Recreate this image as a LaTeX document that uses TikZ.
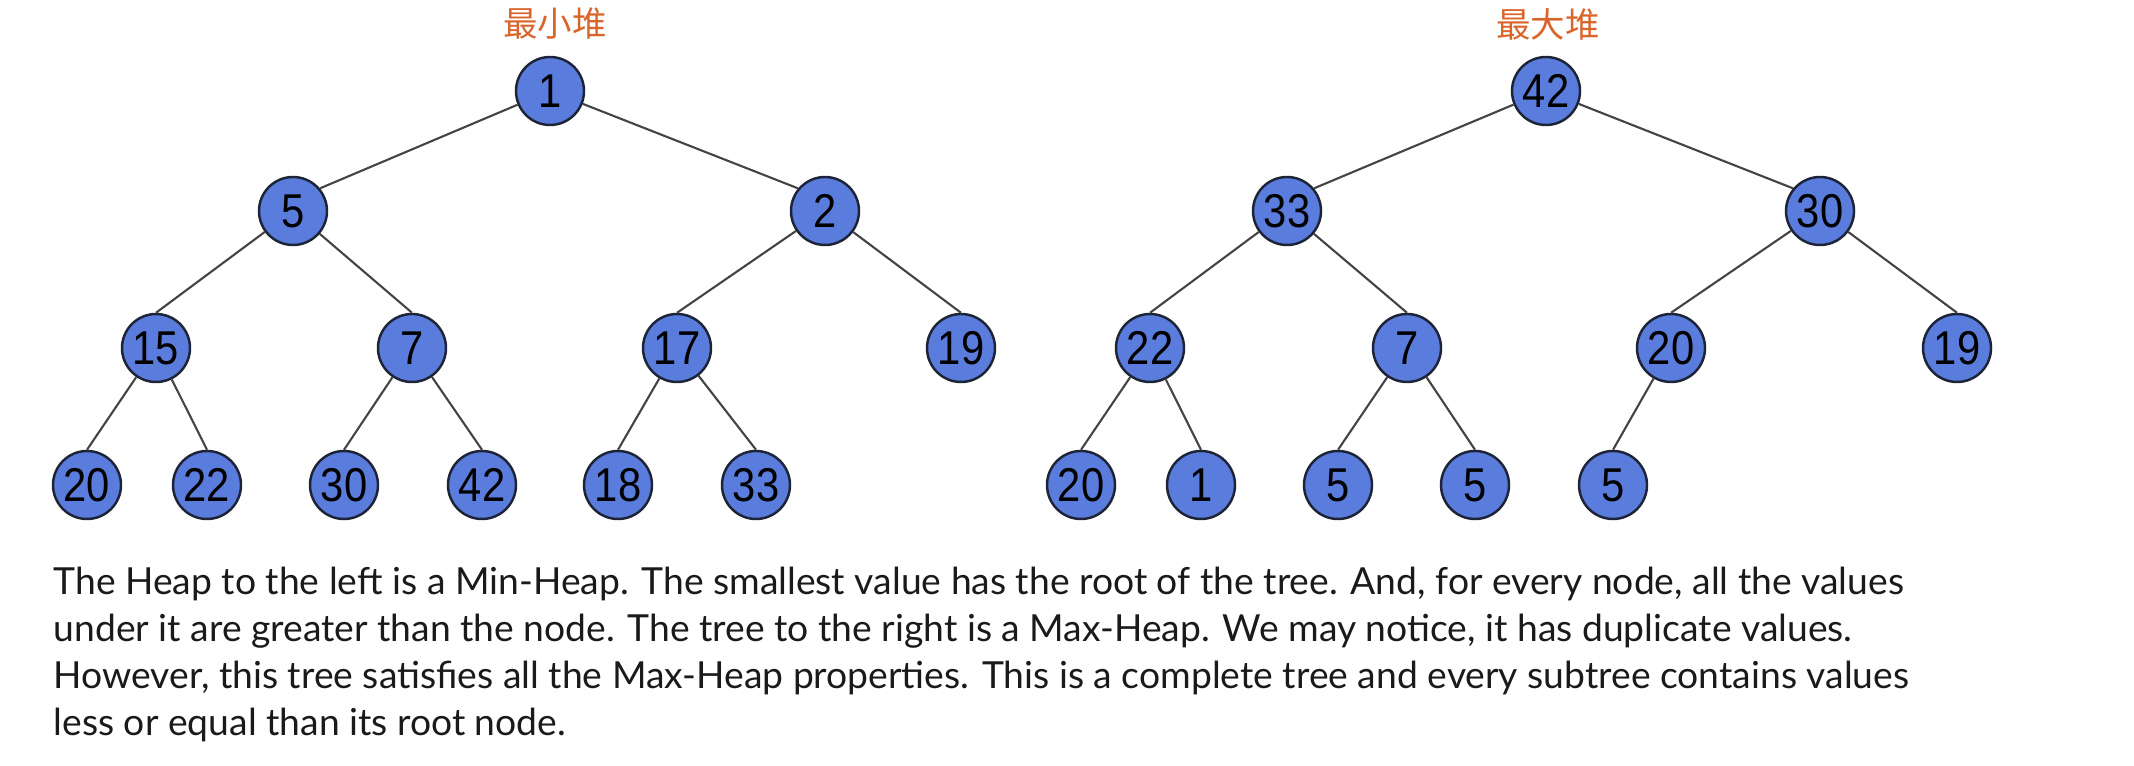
\documentclass[tikz,border=0pt]{standalone}
\usepackage{fontspec}
\usepackage{tikz}
\usetikzlibrary{positioning}
\newfontfamily\numfont[FakeStretch=0.88]{Liberation Sans}
\newfontfamily\bodyfont{Lato}
\newfontfamily\cjkfont{Noto Sans CJK SC}
\definecolor{HeapBlue}{HTML}{5A7CDC}
\definecolor{HeapBorder}{HTML}{1E2438}
\definecolor{EdgeGray}{HTML}{444444}
\definecolor{TitleOrange}{HTML}{D9652B}
\definecolor{BodyBlack}{HTML}{1A1A1A}

\begin{document}
\begin{tikzpicture}[
			on grid,
			heapnode/.style={circle, draw=HeapBorder, line width=0.7pt, fill=HeapBlue, minimum size=0.68cm, inner sep=0pt, font=\numfont\fontsize{13.5pt}{13.5pt}\selectfont},
			title/.style={text=TitleOrange, inner sep=0pt, font=\cjkfont\fontsize{9.8pt}{10pt}\selectfont},
			link/.style={draw=EdgeGray, line width=0.6pt}
			]
			\useasboundingbox (0,0) rectangle (21.34,-7.66);
			% Min-Heap
			\node (l1) [heapnode] at (5.50,-0.91) {1};
			\node (l5) [heapnode, below left=1.20cm and 2.57cm of l1] {5};
			\node (l2) [heapnode, below right=1.20cm and 2.75cm of l1] {2};
			\node (l15) [heapnode, below left=1.37cm and 1.37cm of l5] {15};
			\node (l7) [heapnode, below right=1.37cm and 1.19cm of l5] {7};
			\node (l17) [heapnode, below left=1.37cm and 1.48cm of l2] {17};
			\node (l19) [heapnode, below right=1.37cm and 1.36cm of l2] {19};
			\node (l20) [heapnode, below left=1.37cm and 0.69cm of l15] {20};
			\node (l22) [heapnode, below right=1.37cm and 0.51cm of l15] {22};
			\node (l30) [heapnode, below left=1.37cm and 0.68cm of l7] {30};
			\node (l42) [heapnode, below right=1.37cm and 0.70cm of l7] {42};
			\node (l18) [heapnode, below left=1.37cm and 0.59cm of l17] {18};
			\node (l33) [heapnode, below right=1.37cm and 0.79cm of l17] {33};
			\node (mintitle) [title, above=0.67cm of l1, xshift=0.05cm] {最小堆};
			
			% Max-Heap
			\node (r42) [heapnode] at (15.46,-0.91) {42};
			\node (r33) [heapnode, below left=1.20cm and 2.59cm of r42] {33};
			\node (r30) [heapnode, below right=1.20cm and 2.74cm of r42] {30};
			\node (r22) [heapnode, below left=1.37cm and 1.37cm of r33] {22};
			\node (r7) [heapnode, below right=1.37cm and 1.20cm of r33] {7};
			\node (r20) [heapnode, below left=1.37cm and 1.49cm of r30] {20};
			\node (r19) [heapnode, below right=1.37cm and 1.37cm of r30] {19};
			\node (r20b) [heapnode, below left=1.37cm and 0.69cm of r22] {20};
			\node (r1) [heapnode, below right=1.37cm and 0.51cm of r22] {1};
			\node (r5a) [heapnode, below left=1.37cm and 0.69cm of r7] {5};
			\node (r5b) [heapnode, below right=1.37cm and 0.68cm of r7] {5};
			\node (r5c) [heapnode, below left=1.37cm and 0.58cm of r20] {5};
			\node (maxtitle) [title, above=0.67cm of r42, xshift=0.02cm] {最大堆};
			
			% Edges
			\draw[link] (l1) -- (l5.40);
			\draw[link] (l1) -- (l2.140);
			\draw[link] (l5) -- (l15.north);
			\draw[link] (l5) -- (l7.north);
			\draw[link] (l2) -- (l17.north);
			\draw[link] (l2) -- (l19.north);
			\draw[link] (l15) -- (l20.north);
			\draw[link] (l15) -- (l22.north);
			\draw[link] (l7) -- (l30.north);
			\draw[link] (l7) -- (l42.north);
			\draw[link] (l17) -- (l18.north);
			\draw[link] (l17) -- (l33.north);
			
			\draw[link] (r42) -- (r33.40);
			\draw[link] (r42) -- (r30.140);
			\draw[link] (r33) -- (r22.north);
			\draw[link] (r33) -- (r7.north);
			\draw[link] (r30) -- (r20.north);
			\draw[link] (r30) -- (r19.north);
			\draw[link] (r22) -- (r20b.north);
			\draw[link] (r22) -- (r1.north);
			\draw[link] (r7) -- (r5a.north);
			\draw[link] (r7) -- (r5b.north);
			\draw[link] (r20) -- (r5c.north);
			
			% Caption
			\node (caption) [anchor=north west, inner sep=0pt, align=left, text=BodyBlack, font=\bodyfont\fontsize{10.6pt}{13.4pt}\selectfont] at (0.53,-5.66) {The Heap to the left is a Min-Heap. The smallest value has the root of the tree. And, for every node, all the values\\
				under it are greater than the node. The tree to the right is a Max-Heap. We may notice, it has duplicate values.\\
				However, this tree satisfies all the Max-Heap properties. This is a complete tree and every subtree contains values\\
				less or equal than its root node.};
\end{tikzpicture}
\end{document}
